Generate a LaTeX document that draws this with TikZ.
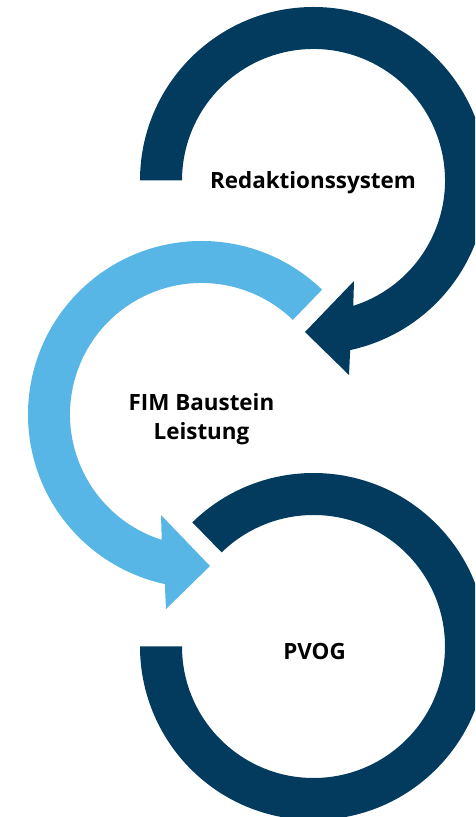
\documentclass[tikz,border=0pt]{standalone}
\usepackage{fontspec}
\setmainfont{Open Sans}
\definecolor{navy}{RGB}{2,59,93}
\definecolor{sky}{RGB}{87,182,229}

\begin{document}
\begin{tikzpicture}[x=0.75pt,y=0.75pt,font=\bfseries\fontsize{16.8}{21.75}\selectfont,
    lbl/.style={inner sep=0pt,align=center}]
\useasboundingbox (0,0) rectangle (475,817);
\clip (0,0) rectangle (475,817);
\coordinate (top) at (313.5,636.5);
\coordinate (mid) at (201.5,402.5);
\coordinate (bot) at (313.5,170.5);
% upper ring, arrow ends down left
\fill[navy,shift={(top)}] (180:173.5) arc[start angle=180,end angle=-77.8,radius=173.5]
    -- (35.5,-194.5) -- (-8.5,-151.5) -- (40.5,-100.5)
    -- (-72.4:131.5) arc[start angle=-72.4,end angle=180,radius=131.5] -- cycle;
% middle ring
\fill[sky,shift={(mid)}] (46:173.5) arc[start angle=46,end angle=257.8,radius=173.5]
    -- (-35.5,-194.5) -- (8.5,-151.5) -- (-40.5,-100.5)
    -- (252.4:131.5) arc[start angle=252.4,end angle=46,radius=131.5] -- cycle;
% lower ring, no head
\fill[navy,shift={(bot)}] (134.3:173.5) arc[start angle=134.3,end angle=-180,radius=173.5]
    -- (180:131.5) arc[start angle=-180,end angle=134.3,radius=131.5] -- cycle;
\node[lbl,anchor=base] (redak) at (313,628) {Redaktionssystem};
\node[lbl] (fim) at (201.5,398.3) {FIM Baustein\\Leistung};
\node[lbl,anchor=base] (pvog) at (314.5,157.7) {PVOG};
\end{tikzpicture}
\end{document}
